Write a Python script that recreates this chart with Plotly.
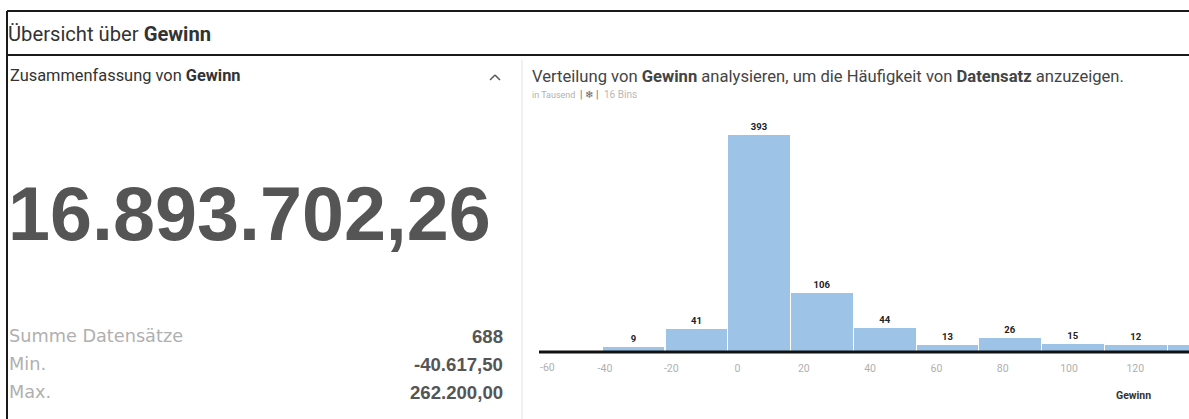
import plotly.graph_objects as go

W, H = 1189, 419

bin_centers = [-31.2, -12.2, 6.7, 25.6, 44.6, 63.5, 82.4, 101.3, 120.3, 139.2]
bin_counts = [9, 41, 393, 106, 44, 13, 26, 15, 12, 13]
bin_labels = ["9", "41", "393", "106", "44", "13", "26", "15", "12", ""]
tick_values = [-40, -20, 0, 20, 40, 60, 80, 100, 120]
tick_labels = ["-40", "-20", "0", "20", "40", "60", "80", "100", "120"]
stat_names = ["Summe Datensätze", "Min.", "Max."]
stat_values = ["688", "-40.617,50", "262.200,00"]

SANS = "Roboto"
NUM = "Liberation Sans"


def px(x):
    return x / W


def py(y):
    return 1 - y / H


fig = go.Figure(
    go.Bar(
        x=bin_centers,
        y=bin_counts,
        width=18.9,
        text=[f"<b>{t}</b>" if t else "" for t in bin_labels],
        textposition="outside",
        textfont=dict(family=SANS, size=9.5, color="#222222"),
        marker=dict(color="#9DC3E6", line=dict(color="white", width=1)),
        cliponaxis=True,
        hoverinfo="skip",
    )
)


def label(x, y, text, size, color, anchor="left", family=SANS):
    fig.add_annotation(
        xref="paper", yref="paper", x=px(x), y=py(y), text=text, showarrow=False,
        xanchor=anchor, yanchor="middle", font=dict(family=family, size=size, color=color),
        borderpad=0, borderwidth=0,
    )


def rule(x0, y0, x1, y1, color, width):
    fig.add_shape(type="line", xref="paper", yref="paper", x0=px(x0), y0=py(y0), x1=px(x1), y1=py(y1),
                  line=dict(color=color, width=width))


rule(7, 11, W, 11, "#1a1a1a", 2)
rule(7, 11, 7, H, "#1a1a1a", 2)
rule(7, 55, W, 55, "#1a1a1a", 2)
rule(522, 60, 522, H, "#e2e2e2", 1)
rule(539, 352, W, 352, "#111111", 3)
rule(490, 80, 495, 75, "#555555", 1.5)
rule(495, 75, 500, 80, "#555555", 1.5)

label(8, 34, "Übersicht über <b>Gewinn</b>", 20.2, "#333333")
label(10, 75, "Zusammenfassung von <b>Gewinn</b>", 16.4, "#333333")
label(532, 76, "Verteilung von <b>Gewinn</b> analysieren, um die Häufigkeit von <b>Datensatz</b> anzuzeigen.", 16.6, "#444444")
label(532, 95, "in Tausend", 9, "#b0b0b0")
label(580, 94, "|", 10, "#666666")
label(585, 94, "❄", 10, "#666666", family="DejaVu Sans")
label(596, 94, "|", 10, "#666666")
label(604, 94, "16 Bins", 10, "#b8b8b8")
label(8, 214, "<b>16.893.702,26</b>", 75.5, "#555555", family=NUM)
for name, value, y in zip(stat_names, stat_values, [336, 364, 392]):
    label(9, y, name, 17.7, "#b0b0b0", family="DejaVu Sans")
    label(503, y, f"<b>{value}</b>", 18.6, "#555555", anchor="right", family=NUM)
label(547, 367, "-60", 10.5, "#b0b0b0", anchor="center")
label(1133, 395, "<b>Gewinn</b>", 10.5, "#333333", anchor="center")

fig.update_layout(
    width=W, height=H, margin=dict(l=0, r=0, t=0, b=0), autosize=False,
    paper_bgcolor="white", plot_bgcolor="white", showlegend=False, bargap=0,
    xaxis=dict(
        domain=[px(539), 1], range=[-59.9, 136.2], tickmode="array", tickvals=tick_values, ticktext=tick_labels,
        showgrid=False, zeroline=False, showline=False, ticks="", ticklabelstandoff=8,
        tickfont=dict(family=SANS, size=10.5, color="#b0b0b0"),
    ),
    yaxis=dict(domain=[py(352), py(110)], range=[0, 438], visible=False),
)

fig.write_html("out.html", post_script="document.body.style.margin='0';", config={"displayModeBar": False})
